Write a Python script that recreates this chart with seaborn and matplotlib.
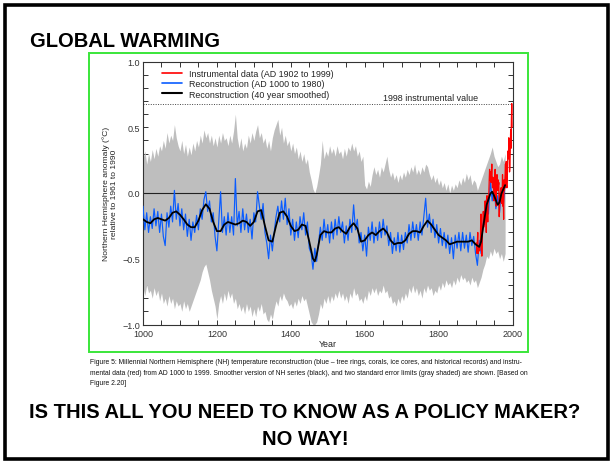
import numpy as np
import matplotlib
matplotlib.use("Agg")
import matplotlib.pyplot as plt
from matplotlib.patches import Rectangle
from matplotlib.lines import Line2D
from matplotlib.ticker import MultipleLocator, FixedLocator, FuncFormatter
import seaborn as sns

# ---------------------------------------------------------------- data
# Reconstruction (AD 1000 to 1980), one value every 5 years
recon_blue = [
    -0.10, -0.28, -0.15, -0.30, -0.18, -0.27, -0.12, -0.25, -0.14, -0.30,   # 1000
    -0.16, -0.33, -0.40, -0.15, -0.26, -0.10, -0.22, 0.02, -0.20, -0.08,    # 1050
    -0.25, -0.12, -0.28, -0.16, -0.33, -0.20, -0.36, -0.22, -0.30, -0.17,   # 1100
    -0.28, -0.12, -0.20, -0.05, 0.01, -0.14, -0.06, -0.22, -0.15, -0.33,    # 1150
    -0.44, -0.22, 0.01, -0.30, -0.18, -0.32, -0.15, -0.30, -0.18, -0.32,    # 1200
    0.11, -0.25, -0.14, -0.30, -0.12, -0.28, -0.16, -0.30, -0.20, -0.35,    # 1250
    -0.15, -0.22, 0.01, -0.10, -0.20, -0.08, -0.30, -0.38, -0.50, -0.32,    # 1300
    -0.44, -0.30, -0.18, -0.10, -0.22, -0.06, -0.20, -0.04, -0.24, -0.12,   # 1350
    -0.32, -0.20, -0.36, -0.22, -0.34, -0.18, -0.28, -0.15, -0.32, -0.22,   # 1400
    -0.42, -0.46, -0.58, -0.42, -0.52, -0.38, -0.26, -0.36, -0.20, -0.34,   # 1450
    -0.24, -0.38, -0.22, -0.35, -0.20, -0.32, -0.18, -0.30, -0.22, -0.38,   # 1500
    -0.25, -0.36, -0.20, -0.30, -0.09, -0.28, -0.20, -0.38, -0.30, -0.44,   # 1550
    -0.32, -0.48, -0.26, -0.36, -0.22, -0.38, -0.26, -0.36, -0.22, -0.34,   # 1600
    -0.20, -0.32, -0.25, -0.40, -0.30, -0.46, -0.34, -0.44, -0.30, -0.45,   # 1650
    -0.32, -0.43, -0.30, -0.38, -0.24, -0.36, -0.22, -0.34, -0.24, -0.36,   # 1700
    -0.22, -0.32, -0.18, -0.04, -0.26, -0.16, -0.30, -0.20, -0.34, -0.24,   # 1750
    -0.38, -0.27, -0.40, -0.30, -0.42, -0.32, -0.46, -0.34, -0.50, -0.32,   # 1800
    -0.42, -0.30, -0.44, -0.30, -0.42, -0.32, -0.45, -0.30, -0.40, -0.33,   # 1850
    -0.46, -0.55, -0.36, -0.46, -0.24, -0.14, -0.04, -0.16, 0.10, -0.06,    # 1900
    0.05, -0.12, -0.02, -0.15, 0.04, -0.10, 0.08,                            # 1950
]

# Two standard error limits (gray band), one value every 5 years
band_upper = [
    0.26, 0.32, 0.22, 0.30, 0.24, 0.33, 0.26, 0.34, 0.28, 0.36,
    0.32, 0.40, 0.34, 0.46, 0.38, 0.44, 0.40, 0.52, 0.42, 0.36,
    0.32, 0.40, 0.30, 0.37, 0.28, 0.35, 0.29, 0.38, 0.32, 0.40,
    0.35, 0.44, 0.38, 0.48, 0.42, 0.46, 0.38, 0.44, 0.36, 0.42,
    0.35, 0.44, 0.38, 0.46, 0.40, 0.42, 0.36, 0.44, 0.38, 0.47,
    0.60, 0.42, 0.34, 0.42, 0.32, 0.38, 0.34, 0.44, 0.38, 0.46,
    0.40, 0.47, 0.52, 0.42, 0.46, 0.38, 0.42, 0.34, 0.40, 0.32,
    0.42, 0.48, 0.52, 0.56, 0.44, 0.50, 0.38, 0.44, 0.36, 0.40,
    0.32, 0.38, 0.30, 0.35, 0.26, 0.32, 0.24, 0.30, 0.22, 0.26,
    0.16, 0.10, 0.03, 0.00, 0.05, 0.13, 0.22, 0.40, 0.26, 0.32,
    0.28, 0.36, 0.30, 0.34, 0.28, 0.36, 0.30, 0.32, 0.26, 0.34,
    0.28, 0.35, 0.32, 0.38, 0.32, 0.36, 0.28, 0.32, 0.24, 0.28,
    0.06, 0.03, 0.09, 0.05, 0.14, 0.20, 0.14, 0.18, 0.12, 0.20,
    0.16, 0.22, 0.28, 0.18, 0.12, 0.16, 0.10, 0.14, 0.08, 0.14,
    0.10, 0.16, 0.12, 0.18, 0.14, 0.20, 0.16, 0.22, 0.14, 0.18,
    0.14, 0.20, 0.16, 0.22, 0.20, 0.14, 0.10, 0.14, 0.08, 0.12,
    0.06, 0.10, 0.04, 0.08, 0.02, 0.07, 0.00, 0.06, 0.02, 0.07,
    0.04, 0.10, 0.06, 0.12, 0.08, 0.15, 0.10, 0.14, 0.06, 0.10,
    0.08, 0.02, 0.06, 0.10, 0.14, 0.18, 0.22, 0.26, 0.30, 0.35,
    0.28, 0.24, 0.20, 0.22, 0.28, 0.24, 0.30,
]
band_lower = [
    -0.72, -0.78, -0.70, -0.76, -0.74, -0.80, -0.72, -0.78, -0.74, -0.82,
    -0.76, -0.84, -0.80, -0.86, -0.78, -0.84, -0.80, -0.88, -0.82, -0.86,
    -0.84, -0.90, -0.82, -0.88, -0.84, -0.90, -0.86, -0.82, -0.78, -0.74,
    -0.70, -0.66, -0.60, -0.56, -0.54, -0.60, -0.66, -0.74, -0.80, -0.86,
    -0.96, -0.84, -0.78, -0.84, -0.76, -0.82, -0.74, -0.80, -0.76, -0.84,
    -0.80, -0.88, -0.84, -0.90, -0.86, -0.92, -0.84, -0.90, -0.86, -0.94,
    -0.88, -0.94, -0.86, -0.90, -0.84, -0.92, -0.90, -0.96, -0.98, -0.92,
    -0.96, -0.88, -0.82, -0.86, -0.78, -0.82, -0.76, -0.80, -0.82, -0.86,
    -0.84, -0.88, -0.82, -0.86, -0.80, -0.84, -0.78, -0.82, -0.80, -0.86,
    -0.92, -0.98, -1.00, -1.00, -0.98, -0.92, -0.84, -0.88, -0.80, -0.84,
    -0.78, -0.84, -0.78, -0.82, -0.76, -0.80, -0.74, -0.80, -0.76, -0.82,
    -0.78, -0.84, -0.76, -0.80, -0.72, -0.78, -0.76, -0.82, -0.80, -0.84,
    -0.78, -0.82, -0.74, -0.78, -0.72, -0.76, -0.72, -0.78, -0.74, -0.76,
    -0.70, -0.76, -0.74, -0.80, -0.78, -0.84, -0.82, -0.86, -0.80, -0.84,
    -0.78, -0.82, -0.76, -0.80, -0.72, -0.76, -0.70, -0.76, -0.72, -0.78,
    -0.74, -0.80, -0.72, -0.76, -0.70, -0.74, -0.72, -0.78, -0.74, -0.76,
    -0.70, -0.74, -0.68, -0.72, -0.66, -0.70, -0.68, -0.72, -0.66, -0.70,
    -0.64, -0.68, -0.62, -0.66, -0.64, -0.68, -0.66, -0.70, -0.64, -0.68,
    -0.66, -0.72, -0.68, -0.64, -0.58, -0.54, -0.48, -0.50, -0.44, -0.48,
    -0.42, -0.46, -0.44, -0.50, -0.46, -0.52, -0.46,
]

# Reconstruction, 40 year smoothed
smooth_years = [
    1000, 1010, 1020, 1030, 1040, 1050, 1060, 1070, 1080, 1090,
    1100, 1110, 1120, 1130, 1140, 1150, 1160, 1170, 1180, 1190,
    1200, 1210, 1220, 1230, 1240, 1250, 1260, 1270, 1280, 1290,
    1300, 1310, 1320, 1330, 1340, 1350, 1360, 1370, 1380, 1390,
    1400, 1410, 1420, 1430, 1440, 1450, 1460, 1465, 1470, 1480,
    1490, 1500, 1510, 1520, 1530, 1540, 1550, 1560, 1570, 1580,
    1590, 1600, 1610, 1620, 1630, 1640, 1650, 1660, 1670, 1680,
    1690, 1700, 1710, 1720, 1730, 1740, 1750, 1760, 1770, 1780,
    1790, 1800, 1810, 1820, 1830, 1840, 1850, 1860, 1870, 1880,
    1890, 1900, 1910, 1915, 1920, 1930, 1940, 1945, 1950, 1960,
    1965, 1970, 1980,
]
smooth_values = [
    -0.20, -0.22, -0.23, -0.20, -0.19, -0.20, -0.21, -0.19, -0.15, -0.14,
    -0.165, -0.20, -0.24, -0.26, -0.26, -0.21, -0.13, -0.086, -0.12, -0.22,
    -0.29, -0.29, -0.24, -0.22, -0.23, -0.24, -0.23, -0.21, -0.22, -0.25,
    -0.22, -0.14, -0.13, -0.25, -0.36, -0.37, -0.25, -0.15, -0.14, -0.18,
    -0.25, -0.29, -0.28, -0.24, -0.25, -0.37, -0.50, -0.52, -0.47, -0.32,
    -0.29, -0.30, -0.30, -0.27, -0.26, -0.29, -0.31, -0.26, -0.23, -0.27,
    -0.37, -0.36, -0.32, -0.30, -0.32, -0.29, -0.27, -0.30, -0.36, -0.39,
    -0.38, -0.38, -0.36, -0.31, -0.29, -0.29, -0.30, -0.25, -0.21, -0.24,
    -0.28, -0.32, -0.34, -0.36, -0.39, -0.38, -0.37, -0.37, -0.37, -0.37,
    -0.36, -0.39, -0.41, -0.37, -0.27, -0.09, -0.005, 0.01, -0.02, -0.09,
    -0.07, -0.005, 0.06,
]

# Instrumental data (AD 1902 to 1999), annual
instr_red = [
    -0.38, -0.42, -0.46, -0.36, -0.30, -0.46, -0.44, -0.42,               # 1902
    -0.40, -0.44, -0.42, -0.38, -0.20, -0.16, -0.34, -0.48, -0.34, -0.26, # 1910
    -0.24, -0.14, -0.26, -0.22, -0.24, -0.16, -0.06, -0.14, -0.14, -0.30, # 1920
    -0.06, -0.02, -0.06, -0.22, -0.04, -0.06, 0.00, 0.10, 0.18, 0.10,     # 1930
    0.12, 0.16, 0.08, 0.14, 0.22, 0.08, 0.04, 0.12, 0.06, 0.02,           # 1940
    -0.06, 0.06, 0.10, 0.18, 0.00, -0.04, -0.10, 0.10, 0.14, 0.08,        # 1950
    0.02, 0.10, 0.06, 0.08, -0.18, -0.10, -0.02, 0.00, -0.06, 0.04,       # 1960
    0.02, -0.08, 0.00, 0.14, -0.10, -0.04, -0.20, 0.10, 0.02, 0.08,       # 1970
    0.14, 0.22, 0.04, 0.24, 0.06, 0.04, 0.12, 0.26, 0.32, 0.26,           # 1980
    0.42, 0.38, 0.16, 0.20, 0.32, 0.48, 0.34, 0.56, 0.68, 0.50,           # 1990
]

recon_years = 1000 + 5 * np.arange(len(recon_blue))
band_years = 1000 + 5 * np.arange(len(band_upper))
instr_years = 1902 + np.arange(len(instr_red))
value_1998 = instr_red[list(instr_years).index(1998)]

x_major = [1000, 1200, 1400, 1600, 1800, 2000]
y_major = [-1.0, -0.5, 0.0, 0.5, 1.0]

legend_labels = [
    "Instrumental data (AD 1902 to 1999)",
    "Reconstruction (AD 1000 to 1980)",
    "Reconstruction (40 year smoothed)",
]
caption_lines = [
    "Figure 5: Millennial Northern Hemisphere (NH) temperature reconstruction (blue \u2013 tree rings, corals, ice cores, and historical records) and instru-",
    "mental data (red) from AD 1000 to 1999. Smoother version of NH series (black), and two standard error limits (gray shaded) are shown. [Based on",
    "Figure 2.20]",
]

# ---------------------------------------------------------------- style
sns.set_theme(style="ticks")
plt.rcParams["font.family"] = ["Liberation Sans", "DejaVu Sans"]
plt.rcParams["axes.unicode_minus"] = True

W, H = 610, 464
fig = plt.figure(figsize=(W / 100, H / 100), dpi=100)
fig.patch.set_facecolor("white")

# slide frame
fig.patches.append(Rectangle((4.5 / W, 1 - 460 / H), 603 / W, 454 / H,
                             transform=fig.transFigure, fill=False,
                             edgecolor="black", linewidth=2.6))
# green frame round the chart
fig.patches.append(Rectangle((89 / W, 1 - 353 / H), 439 / W, 299 / H,
                             transform=fig.transFigure, fill=False,
                             edgecolor="#3ae63a", linewidth=1.4))

fig.text(30 / W, 1 - 47 / H, "GLOBAL WARMING", ha="left", va="baseline",
         fontsize=14.5, fontweight="bold", color="black")

ax = fig.add_axes([143 / W, 1 - 325.5 / H, 369.5 / W, 263 / H])
ax.set_facecolor("white")

GRAY = "#bebebe"
BLUE = "#0a5cff"
RED = "#ff0000"

ax.fill_between(band_years, band_lower, band_upper, color=GRAY, lw=0, zorder=1)
ax.axhline(0, color="#222222", lw=0.8, zorder=2)
sns.lineplot(x=recon_years, y=recon_blue, color=BLUE, lw=0.85,
             estimator=None, ax=ax, zorder=3)
sns.lineplot(x=instr_years, y=instr_red, color=RED, lw=0.9,
             estimator=None, ax=ax, zorder=4)
sns.lineplot(x=smooth_years, y=smooth_values, color="black", lw=1.3,
             estimator=None, ax=ax, zorder=5)
ax.axhline(value_1998, color="#444444", lw=0.7, ls=(0, (1, 1.5)), zorder=2)
ax.text(1907, value_1998 + 0.012, "1998 instrumental value", ha="right",
        va="bottom", fontsize=6.4, color="#222222")

handles = [Line2D([], [], color=RED, lw=1.2),
           Line2D([], [], color=BLUE, lw=1.2),
           Line2D([], [], color="black", lw=1.5)]
ax.legend(handles, legend_labels, loc="upper left",
          bbox_to_anchor=(19 / 369.5, 0.970), frameon=False, fontsize=6.4,
          borderpad=0, borderaxespad=0, handlelength=2.3, handletextpad=0.7,
          labelspacing=0.12, labelcolor="#222222")

ax.set_xlim(1000, 2000)
ax.set_ylim(-1.0, 1.0)
ax.xaxis.set_major_locator(FixedLocator(x_major))
ax.xaxis.set_minor_locator(MultipleLocator(50))
ax.yaxis.set_major_locator(FixedLocator(y_major))
ax.yaxis.set_minor_locator(MultipleLocator(0.1))
ax.yaxis.set_major_formatter(FuncFormatter(lambda v, p: f"{v:.1f}".replace("-", "\u2212")))
ax.xaxis.set_major_formatter(FuncFormatter(lambda v, p: f"{int(v)}"))

for s in ax.spines.values():
    s.set_visible(True)
    s.set_color("#333333")
    s.set_linewidth(0.8)
ax.tick_params(which="both", direction="in", top=True, right=True,
               length=3.5, width=0.7, color="#333333")
ax.tick_params(axis="x", labelsize=6.5, labelcolor="#333333", pad=3)
ax.tick_params(axis="y", labelsize=6.5, labelcolor="#333333", pad=2)
ax.grid(False)

ax.set_xlabel("Year", fontsize=6.4, color="#222222", labelpad=1)
ax.set_ylabel("Northern Hemisphere anomaly (\u00b0C)\nrelative to 1961 to 1990",
              fontsize=6.1, color="#222222", linespacing=1.25)
ax.yaxis.set_label_coords(-0.068, 0.5)

for text, y in zip(caption_lines, [363, 374, 384]):
    fig.text(90 / W, 1 - y / H, text, ha="left", va="center",
             fontsize=4.85, color="#111111")

fig.text(305 / W, 1 - 413 / H, "IS THIS ALL YOU NEED TO KNOW AS A POLICY MAKER?",
         ha="center", va="center", fontsize=14.5, fontweight="bold", color="black")
fig.text(305 / W, 1 - 440 / H, "NO WAY!", ha="center", va="center",
         fontsize=14.5, fontweight="bold", color="black")

fig.savefig("out.png", dpi=100)
